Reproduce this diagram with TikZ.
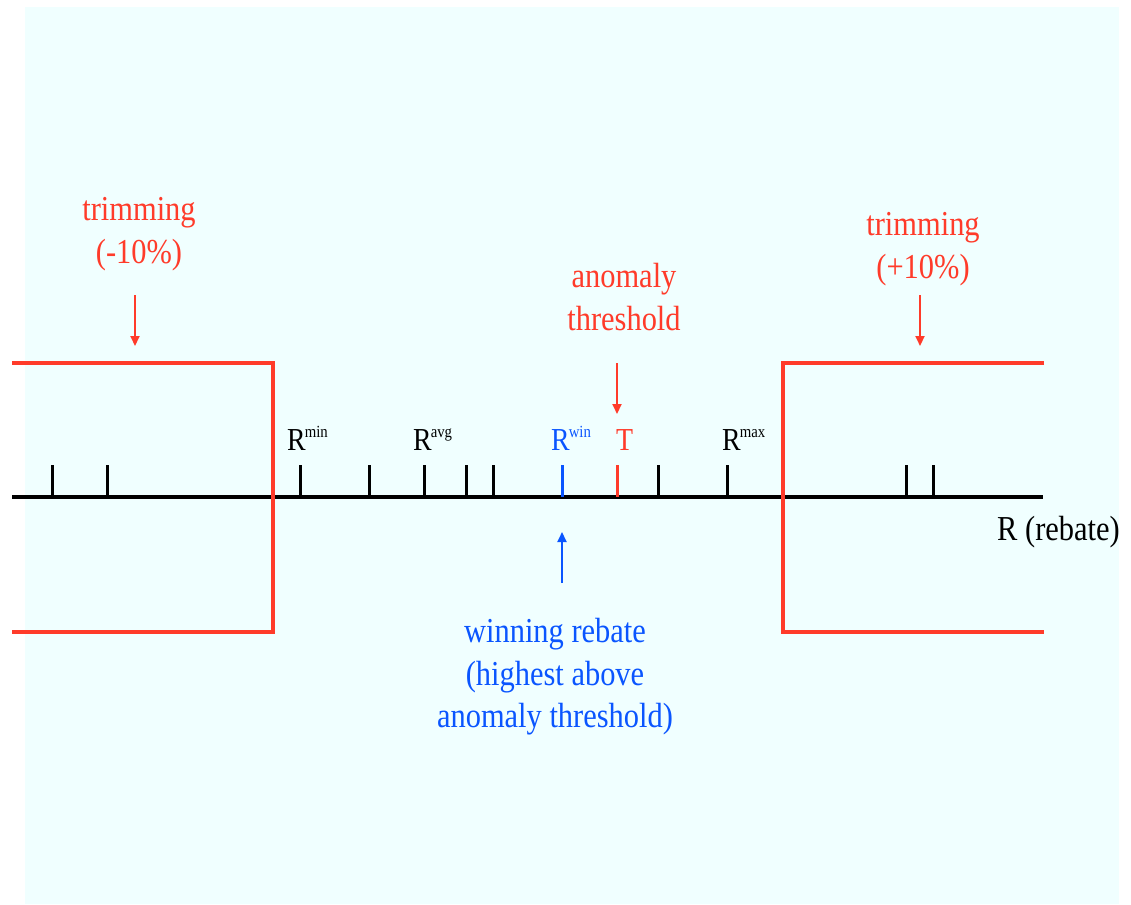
\documentclass[tikz,border=0pt]{standalone}
\usepackage{fontspec}
\setmainfont[FakeStretch=0.87]{Liberation Serif}
\usetikzlibrary{arrows.meta}
\definecolor{bgc}{HTML}{F0FFFF}
\definecolor{redc}{HTML}{FF3B2A}
\definecolor{bluec}{HTML}{0A55FF}
\newcommand{\supr}[1]{\kern-1pt\raisebox{13pt}{\fontsize{17}{17}\selectfont #1}}
\tikzset{
  bigtxt/.style={inner sep=0pt, anchor=base, font=\rmfamily\fontsize{35}{42}\selectfont},
  axlbl/.style={inner sep=0pt, anchor=base west, font=\rmfamily\fontsize{32}{38}\selectfont},
  tickmark/.style={line width=3pt},
  axisline/.style={line width=3.5pt},
  trimline/.style={line width=3.5pt, redc},
  pointer/.style={line width=2pt, -{Triangle[length=10pt,width=9pt]}},
}
\begin{document}
\begin{tikzpicture}[x=1pt,y=-1pt]
\useasboundingbox (0,0) rectangle (1131,904);
\fill[bgc] (25,7) rectangle (1119,904);
% axis
\coordinate (axL) at (12,497);
\coordinate (axR) at (1043,497);
\draw[axisline] (axL) -- (axR);
% trimming boundaries
\coordinate (lt0) at (12,363);
\coordinate (lt1) at (273,363);
\coordinate (lb1) at (273,632);
\coordinate (lb0) at (12,632);
\draw[trimline, line join=miter] (lt0) -- (lt1) -- (lb1) -- (lb0);
\coordinate (rt0) at (1044,363);
\coordinate (rt1) at (783,363);
\coordinate (rb1) at (783,632);
\coordinate (rb0) at (1044,632);
\draw[trimline, line join=miter] (rt0) -- (rt1) -- (rb1) -- (rb0);
% ticks
\foreach \x in {52,107,300,369,424,466,493,658,727,906,933}
  \draw[tickmark] (\x,465) -- (\x,497);
\draw[tickmark, bluec] (562,465) -- (562,497);
\draw[tickmark, redc] (617,465) -- (617,497);
% tick labels
\node[axlbl] (rmin) at (287,450) {R\supr{min}};
\node[axlbl] (ravg) at (413,450) {R\supr{avg}};
\node[axlbl, bluec] (rwin) at (551,450) {R\supr{win}};
\node[axlbl, redc] (tthr) at (616,450) {T};
\node[axlbl] (rmax) at (722,450) {R\supr{max}};
\node[bigtxt, anchor=base west] (rlabel) at (997,540) {R (rebate)};
% left trimming label
\node[bigtxt, redc] (trimLa) at (139,220) {trimming};
\node[bigtxt, redc] (trimLb) at (139,263) {(-10\%)};
\coordinate (aL0) at (135,295);
\coordinate (aL1) at (135,346);
\draw[pointer, redc] (aL0) -- (aL1);
% right trimming label
\node[bigtxt, redc] (trimRa) at (923,235) {trimming};
\node[bigtxt, redc] (trimRb) at (923,278) {(+10\%)};
\coordinate (aR0) at (920,295);
\coordinate (aR1) at (920,346);
\draw[pointer, redc] (aR0) -- (aR1);
% anomaly threshold
\node[bigtxt, redc] (anoma) at (624,287) {anomaly};
\node[bigtxt, redc] (anomb) at (624,330) {threshold};
\coordinate (aT0) at (617,363);
\coordinate (aT1) at (617,414);
\draw[pointer, redc] (aT0) -- (aT1);
% winning rebate
\coordinate (aW0) at (562,583);
\coordinate (aW1) at (562,532);
\draw[pointer, bluec] (aW0) -- (aW1);
\node[bigtxt, bluec] (wina) at (555,642) {winning rebate};
\node[bigtxt, bluec] (winb) at (555,685) {(highest above};
\node[bigtxt, bluec] (winc) at (555,727) {anomaly threshold)};
\end{tikzpicture}
\end{document}
